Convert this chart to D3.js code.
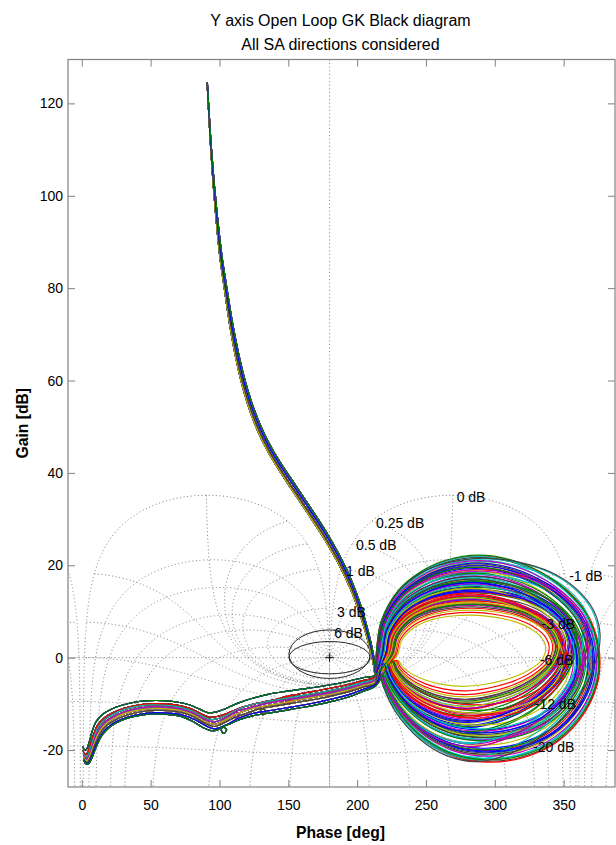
<!DOCTYPE html>
<html>
<head>
<meta charset="utf-8">
<script src="https://cdn.jsdelivr.net/npm/d3@7"></script>
<style>
  html, body { margin: 0; padding: 0; background: #fff; }
  svg { display: block; font-family: "Liberation Sans", Arial, Helvetica, sans-serif; }
</style>
</head>
<body>
<svg id="chart" width="616" height="845"></svg>
<script>
// ---------------- data ----------------
const titleLines = ["Y axis Open Loop GK Black diagram", "All SA directions considered"];
const xLabel = "Phase [deg]";
const yLabel = "Gain [dB]";
const xTicks = [0, 50, 100, 150, 200, 250, 300, 350];
const yTicks = [-20, 0, 20, 40, 60, 80, 100, 120];

// Nichols grid: closed-loop gain contours (dB) and closed-loop phase contours (deg)
const gridGainsDb = [6, 3, 1, 0.5, 0.25, 0, -1, -3, -6, -12, -20];
const gridPhasesDeg = [-1, -5, -10, -20, -30, -50, -90, -120, -150, -180,
                       -210, -240, -270, -310, -330, -340, -350, -355, -359];
const gridCopies = [-360, 0, 360];

// contour labels (text, phase, gain)
const gridLabelText  = ["6 dB", "3 dB", "1 dB", "0.5 dB", "0.25 dB", "0 dB", "-1 dB", "-3 dB", "-6 dB", "-12 dB", "-20 dB"];
const gridLabelPhase = [183.3, 185.4, 191.9, 199.2, 213.7, 272.3, 354.0, 334.0, 332.8, 329.0, 327.8];
const gridLabelGain  = [5.3, 10.0, 18.8, 24.4, 29.2, 34.8, 17.7, 7.3, -0.5, -10.0, -19.3];

// critical point and margin ellipses: [phase centre, gain centre, phase half-width, gain half-height]
const criticalPoint = [180, 0];
const marginEllipses = [[180, 0.75, 29.5, 5.25], [180, 0, 29.5, 3.5]];

// low-frequency branch (phase, gain), four groups of SA directions
const branches = [
  [[91.0,124.6],[92.0,119],[93.5,111],[95.3,103],[97.5,95],[100.2,87],[103.5,80],[107.5,72],[111.8,65],[115.6,60],[120.4,55],[126.5,50],[134.5,45],[142.5,41],[151.2,37],[160.2,33],[166.9,30],[174.5,26.5],[182.5,22.5],[188.8,19],[195.0,15],[200.2,11],[204.6,7],[208.0,3.5],[210.5,0.5],[212.2,-2],[213.0,-3.5]],
  [[91.0,124.6],[92.0,119],[93.6,111],[95.5,103],[97.8,95],[100.6,87],[104.0,80],[108.1,72],[112.5,65],[116.4,60],[121.3,55],[127.5,50],[135.6,45],[143.7,41],[152.5,37],[161.5,33],[168.2,30],[175.7,26.5],[183.6,22.5],[189.8,19],[195.9,15],[201.0,11],[205.3,7],[208.6,3.5],[211.0,0.5],[212.5,-2],[213.2,-3.5]],
  [[91.1,124.6],[92.2,119],[93.8,111],[95.8,103],[98.3,95],[101.3,87],[104.8,80],[109.0,72],[113.6,65],[117.6,60],[122.6,55],[129.0,50],[137.2,45],[145.5,41],[154.4,37],[163.4,33],[170.1,30],[177.5,26.5],[185.3,22.5],[191.3,19],[197.2,15],[202.1,11],[206.2,7],[209.3,3.5],[211.5,0.5],[212.9,-2],[213.4,-3.5]],
  [[91.2,124.6],[92.3,119],[94.0,111],[96.1,103],[98.7,95],[101.8,87],[105.4,80],[109.8,72],[114.5,65],[118.6,60],[123.7,55],[130.2,50],[138.6,45],[147.0,41],[156.0,37],[165.0,33],[171.6,30],[179.0,26.5],[186.6,22.5],[192.5,19],[198.2,15],[203.0,11],[206.9,7],[209.8,3.5],[211.9,0.5],[213.1,-2],[213.6,-3.5]]
];

// flexible-mode loop outlines, normalised (0..1 across phase, -1..1 bottom..top)
const loopShapeA = [[0.000,0.05],[0.022,0.36],[0.10,0.66],[0.20,0.84],[0.31,0.95],[0.46,1.00],[0.61,0.95],[0.74,0.83],[0.85,0.66],[0.94,0.43],[0.99,0.12],[0.99,-0.20],[0.93,-0.52],[0.81,-0.80],[0.65,-0.96],[0.49,-1.00],[0.35,-0.95],[0.22,-0.80],[0.11,-0.56],[0.035,-0.27],[0.005,-0.08]];
const loopShapeB = [[0.000,0.05],[0.03,0.40],[0.11,0.70],[0.23,0.89],[0.37,0.98],[0.50,1.00],[0.64,0.96],[0.78,0.86],[0.89,0.70],[0.97,0.48],[1.00,0.22],[0.97,-0.10],[0.89,-0.42],[0.76,-0.72],[0.60,-0.92],[0.45,-1.00],[0.31,-0.94],[0.19,-0.78],[0.09,-0.54],[0.03,-0.28],[0.005,-0.08]];

// loop extents per SA direction: [left phase, top gain, right phase, bottom gain]
const loopExtents = [
  [218.5,16.2,360,-15.6],[221,14.0,353,-12.6],[215,19.6,369.5,-20.1],[224,12.4,348,-10.5],
  [216.5,18.1,364,-17.7],[229,9.2,337,-6.2],[214,21.7,376.5,-22.4],[219.5,15.4,357.5,-14.6],
  [222.5,13.1,350.5,-11.4],[215.5,19.0,367.5,-19.2],[217,17.4,362.5,-16.9],[226,11.3,344.5,-9.1],
  [214.5,20.6,372.5,-21.1],[220,14.8,356,-13.8],[218,16.7,361,-16.2],[223,12.9,349.5,-11.9],
  [214,22.0,377,-22.6],[216,18.5,366,-18.4],[221.5,13.6,352.5,-12.2],[225,11.8,346,-9.7],
  [215,20.0,370.5,-20.6],[219,15.9,358.5,-15.1],[217.5,17.0,363,-17.2],[227,10.7,342,-8.0],
  [214.5,21.2,374,-21.8],[220.5,14.4,355,-13.3],[216,18.8,365,-18.9],[222,13.3,351.5,-12.9],
  [215.5,19.3,368.5,-19.6],[218,16.4,359.5,-16.5],[224.5,12.1,347,-10.2],[214,21.4,375.5,-22.0],
  [217,17.7,364.5,-17.9],[219.5,15.6,357,-14.2],[215,20.3,371.5,-20.9],[223.5,12.6,349,-11.0],
  [216.2,18.3,366.5,-18.0],[220.8,14.1,354.5,-12.9],[214.2,21.9,375.0,-21.9],[223.0,12.7,350.5,-10.9],
  [217.8,16.9,361.5,-16.9],[225.5,11.0,344.0,-9.0],[215.2,19.9,372.0,-20.2],[219.2,15.2,358.0,-14.9],
  [221.8,13.4,351.0,-12.5],[214.8,20.8,371.0,-21.5],[218.8,16.0,357.5,-15.9],[226.5,10.3,343.0,-8.5],
  [216.8,17.6,365.5,-17.3],[220.2,14.6,356.5,-13.6],[214.0,22.2,376.0,-22.1],[222.8,12.3,348.5,-11.2],
  [217.2,17.2,361.0,-17.6],[215.8,19.1,369.0,-18.7],[219.8,15.0,355.5,-14.6],[224.2,11.6,347.5,-9.9],
  [215.2,20.5,373.0,-20.4],[218.2,16.6,360.0,-16.0],[221.2,13.8,353.0,-13.1],[216.5,18.0,364.0,-18.6],
  [214.6,21.0,374.5,-21.3],[223.8,12.0,346.5,-10.6],[217.9,17.0,362.0,-16.6],[220.6,14.3,354.0,-14.0],
  [215.6,19.6,368.0,-19.9],[228.0,9.8,339.5,-7.2],[219.0,15.7,359.0,-15.4],[216.0,18.7,367.0,-19.3],
  [222.3,13.0,350.0,-12.0],[214.3,21.5,376.5,-22.5],[218.4,16.3,360.5,-16.3],[225.0,11.5,345.5,-9.4]
];

// high-frequency tails (phase, gain), eight groups
const tails = [
  [[212.5,-3.9],[205,-4.3],[195,-5.0],[184,-5.7],[172,-6.3],[160,-6.8],[148,-7.3],[136,-7.9],[124,-8.8],[113,-9.9],[104,-11.1],[97,-11.8],[91.5,-11.9],[86,-11.2],[78,-10.2],[69,-9.6],[59,-9.3],[49,-9.3],[39,-9.6],[29,-10.3],[21,-11.2],[15,-12.3],[10.5,-13.8],[7.8,-15.7],[5.8,-17.8],[4.3,-19.3],[3,-20.0],[1.6,-19.8],[0.8,-19.2]],
  [[212.8,-4.3],[205,-4.9],[195,-5.7],[184,-6.4],[172,-7.1],[162,-7.6],[154,-8.1],[150,-8.3],[147.8,-9.1],[149.6,-9.9],[151.6,-9.1],[149.2,-8.4],[143,-8.9],[130,-9.7],[117,-10.7],[107,-11.9],[100,-12.6],[93.5,-12.9],[87,-12.2],[79,-11.0],[70,-10.3],[60,-10.0],[50,-10.0],[40,-10.3],[30,-11.0],[22,-12.0],[16,-13.1],[11.5,-14.6],[8.5,-16.7],[6.3,-18.7],[4.6,-20.3],[3.1,-21.0],[1.8,-20.7],[0.9,-20.0]],
  [[213,-4.6],[205,-5.3],[195,-6.1],[184,-6.9],[172,-7.6],[160,-8.2],[148,-8.8],[136,-9.4],[124,-10.1],[114,-11.1],[106,-12.3],[100,-13.1],[94.5,-13.4],[88.5,-12.8],[80,-11.5],[71,-10.7],[61,-10.3],[51,-10.2],[41,-10.5],[31,-11.2],[23,-12.2],[16.5,-13.4],[12,-15.0],[9,-17.1],[6.7,-19.2],[5,-20.8],[3.4,-21.5],[2.0,-21.2],[1.1,-20.6]],
  [[213,-4.9],[205,-5.6],[195,-6.5],[184,-7.3],[172,-8.0],[160,-8.6],[148,-9.2],[136,-9.8],[126,-10.5],[116,-11.3],[112.5,-11.5],[110.3,-12.3],[112.1,-13.1],[114.2,-12.3],[111.8,-11.7],[106,-12.8],[100,-13.6],[95,-13.9],[89,-13.3],[81,-12.0],[72,-11.1],[62,-10.7],[52,-10.6],[42,-10.9],[32,-11.6],[24,-12.6],[17,-13.9],[12.5,-15.5],[9.3,-17.6],[7,-19.7],[5.2,-21.3],[3.6,-22.0],[2.1,-21.7],[1.2,-21.0]],
  [[213.2,-5.2],[205,-6.0],[195,-6.9],[184,-7.7],[172,-8.4],[160,-9.0],[148,-9.7],[136,-10.3],[124,-11.0],[114,-12.0],[106,-13.2],[100,-14.1],[95.5,-14.4],[89.5,-13.8],[81,-12.4],[72,-11.5],[62,-11.1],[52,-11.0],[42,-11.3],[32,-12.0],[24,-13.0],[17.5,-14.3],[13,-15.9],[9.7,-18.0],[7.3,-20.0],[5.5,-21.5],[3.8,-22.3],[2.3,-22.0],[1.3,-21.4]],
  [[213.2,-5.5],[205,-6.3],[195,-7.3],[184,-8.1],[172,-8.9],[160,-9.5],[148,-10.1],[138,-10.6],[132,-10.9],[129.6,-11.6],[131.4,-12.4],[133.5,-11.6],[131,-11.0],[122,-11.8],[113,-12.7],[106,-13.7],[100.5,-14.5],[96,-14.9],[90,-14.3],[82,-12.9],[73,-11.9],[63,-11.5],[53,-11.4],[43,-11.7],[33,-12.4],[25,-13.4],[18,-14.7],[13.5,-16.3],[10,-18.4],[7.6,-20.4],[5.7,-21.9],[4.0,-22.7],[2.4,-22.4],[1.4,-21.8]],
  [[213.4,-5.8],[205,-6.8],[195,-7.9],[184,-8.8],[172,-9.6],[160,-10.3],[148,-10.9],[136,-11.5],[124,-12.1],[114,-13.1],[106.5,-14.3],[101,-15.1],[96.5,-15.4],[90.5,-14.8],[82,-13.4],[73,-12.4],[63,-12.0],[53,-11.9],[43,-12.2],[33,-12.9],[25,-13.9],[18.5,-15.2],[14,-16.8],[10.5,-18.8],[8,-20.8],[6,-22.2],[4.2,-23.0],[2.6,-22.7],[1.5,-22.1]],
  [[213.5,-6.1],[205,-7.2],[195,-8.4],[184,-9.3],[172,-10.1],[160,-10.8],[148,-11.4],[136,-12.0],[124,-12.6],[114,-13.5],[107,-14.4],[103.5,-14.8],[101.3,-15.6],[103.1,-16.4],[105.2,-15.6],[102.6,-15.0],[98,-15.7],[94,-15.8],[88,-15.1],[80,-13.7],[72,-12.7],[62,-12.3],[52,-12.2],[42,-12.5],[32,-13.2],[24.5,-14.2],[18.5,-15.5],[14,-17.1],[10.8,-19.1],[8.3,-21.0],[6.3,-22.4],[4.4,-23.1],[2.8,-22.9],[1.6,-22.3]]
];

const colorOrder = ["#0000ff", "#008000", "#ff0000", "#00bfbf", "#bf00bf", "#bfbf00", "#404040"];

// ---------------- layout ----------------
const plot = { left: 68, right: 615, top: 59.5, bottom: 787 };
const x = d3.scaleLinear().domain([-10, 387.3]).range([plot.left, plot.right]);
const y = d3.scaleLinear().domain([-28, 129.5]).range([plot.bottom, plot.top]);

const svg = d3.select("#chart");
svg.append("rect").attr("width", 616).attr("height", 845).attr("fill", "#fff");

svg.append("defs").append("clipPath").attr("id", "plotClip")
  .append("rect")
  .attr("x", plot.left).attr("y", plot.top)
  .attr("width", plot.right - plot.left).attr("height", plot.bottom - plot.top);

// open-loop point L = T/(1-T) for a closed-loop T of given magnitude and phase
function openLoop(mag, phDeg) {
  const p = phDeg * Math.PI / 180;
  const tr = mag * Math.cos(p), ti = mag * Math.sin(p);
  const dr = 1 - tr, di = -ti;
  const den = dr * dr + di * di;
  const lr = (tr * dr + ti * di) / den;
  const li = (ti * dr - tr * di) / den;
  let ang = Math.atan2(li, lr) * 180 / Math.PI;
  if (ang > 0) ang -= 360;
  return [ang + 360, 10 * Math.log10(lr * lr + li * li)];
}

const gridLine = d3.line()
  .defined(d => d[0] > -40 && d[0] < 420 && d[1] > -45 && d[1] < 140 && isFinite(d[1]))
  .x(d => x(d[0])).y(d => y(d[1]));

const dotted = sel => sel.attr("fill", "none").attr("stroke", "#7c7c7c")
  .attr("stroke-width", 1).attr("stroke-dasharray", "1 2.6");

const gridG = svg.append("g").attr("clip-path", "url(#plotClip)");

// constant closed-loop gain contours
const clPhaseSamples = d3.range(-359, -0.99, 0.25);
gridGainsDb.forEach(gdb => {
  const mag = Math.pow(10, gdb / 20);
  const base = clPhaseSamples.map(p => openLoop(mag, p));
  gridCopies.forEach(off => {
    gridG.append("path").datum(base.map(d => [d[0] + off, d[1]])).attr("d", gridLine).call(dotted);
  });
});

// constant closed-loop phase contours
const clMagSamplesDb = d3.range(-60, -4, 0.2).concat(d3.range(-4, 4, 0.01), d3.range(4, 60.01, 0.2));
gridPhasesDeg.forEach(pdeg => {
  const base = clMagSamplesDb.map(mdb => openLoop(Math.pow(10, mdb / 20), pdeg));
  gridCopies.forEach(off => {
    gridG.append("path").datum(base.map(d => [d[0] + off, d[1]])).attr("d", gridLine).call(dotted);
  });
});

// cross-hair through the critical point
gridG.append("line")
  .attr("x1", x(criticalPoint[0])).attr("x2", x(criticalPoint[0]))
  .attr("y1", plot.top).attr("y2", plot.bottom).call(dotted);
gridG.append("line")
  .attr("x1", plot.left).attr("x2", plot.right)
  .attr("y1", y(criticalPoint[1])).attr("y2", y(criticalPoint[1])).call(dotted);

// margin ellipses
const ellG = svg.append("g").attr("clip-path", "url(#plotClip)");
marginEllipses.forEach(e => {
  ellG.append("ellipse")
    .attr("cx", x(e[0])).attr("cy", y(e[1]))
    .attr("rx", x(e[0] + e[2]) - x(e[0])).attr("ry", y(e[1]) - y(e[1] + e[3]))
    .attr("fill", "none").attr("stroke", "#2a2a2a").attr("stroke-width", 1);
});

// open-loop responses
const curveLine = d3.line()
  .x(d => x(d[0])).y(d => y(d[1]))
  .curve(d3.curveCatmullRom.alpha(0.5));

const curveG = svg.append("g").attr("clip-path", "url(#plotClip)");
loopExtents.forEach((ext, i) => {
  const [L, T, R, B] = ext;
  const shape = i % 2 ? loopShapeB : loopShapeA;
  const loop = shape.map(([u, v]) => [L + u * (R - L), v >= 0 ? v * T : v * -B]);
  const pts = branches[i % branches.length].concat(loop, tails[i % tails.length]);
  curveG.append("path").datum(pts).attr("d", curveLine)
    .attr("fill", "none")
    .attr("stroke", colorOrder[i % colorOrder.length])
    .attr("stroke-width", 1.15)
    .attr("stroke-linejoin", "round");
});

// critical point marker
const cpx = x(criticalPoint[0]), cpy = y(criticalPoint[1]);
svg.append("path")
  .attr("d", `M${cpx - 4},${cpy}H${cpx + 4}M${cpx},${cpy - 4}V${cpy + 4}`)
  .attr("stroke", "#111").attr("stroke-width", 1).attr("fill", "none");

// contour labels
const labG = svg.append("g").attr("font-size", 14).attr("fill", "#000");
gridLabelText.forEach((t, i) => {
  labG.append("text")
    .attr("x", x(gridLabelPhase[i])).attr("y", y(gridLabelGain[i]))
    .attr("dy", "0.36em").text(t);
});

// axes
const axisColor = "#808080";
const styleAxis = g => {
  g.select(".domain").remove();
  g.selectAll(".tick line").attr("stroke", axisColor);
  g.selectAll(".tick text").attr("fill", "#000").attr("font-size", 14)
    .attr("font-family", "'Liberation Sans', Arial, sans-serif");
};
const fmt = d => String(d);
svg.append("g").attr("transform", `translate(0,${plot.bottom})`)
  .call(d3.axisBottom(x).tickValues(xTicks).tickSize(-7).tickPadding(13).tickFormat(fmt)).call(styleAxis);
svg.append("g").attr("transform", `translate(0,${plot.top})`)
  .call(d3.axisTop(x).tickValues(xTicks).tickSize(-7).tickFormat("")).call(styleAxis);
svg.append("g").attr("transform", `translate(${plot.left},0)`)
  .call(d3.axisLeft(y).tickValues(yTicks).tickSize(-7).tickPadding(5).tickFormat(fmt)).call(styleAxis);
svg.append("g").attr("transform", `translate(${plot.right},0)`)
  .call(d3.axisRight(y).tickValues(yTicks).tickSize(-7).tickFormat("")).call(styleAxis);

svg.append("rect")
  .attr("x", plot.left).attr("y", plot.top)
  .attr("width", plot.right - plot.left).attr("height", plot.bottom - plot.top)
  .attr("fill", "none").attr("stroke", axisColor).attr("stroke-width", 1.2);

// titles
const cx = (plot.left + plot.right) / 2;
svg.append("text").attr("x", cx - 1).attr("y", 25.5).attr("text-anchor", "middle")
  .attr("font-size", 16).text(titleLines[0]);
svg.append("text").attr("x", cx - 1).attr("y", 49.5).attr("text-anchor", "middle")
  .attr("font-size", 16).text(titleLines[1]);
svg.append("text").attr("x", cx - 1).attr("y", 838).attr("text-anchor", "middle")
  .attr("font-size", 15.7).attr("font-weight", "bold").text(xLabel);
svg.append("text").attr("transform", `translate(27.5,${(plot.top + plot.bottom) / 2}) rotate(-90)`)
  .attr("text-anchor", "middle").attr("font-size", 15.7).attr("font-weight", "bold").text(yLabel);
</script>
</body>
</html>
